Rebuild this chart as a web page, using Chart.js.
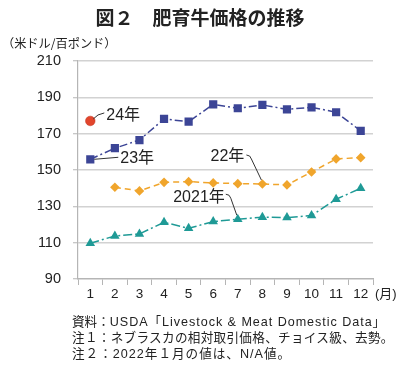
<!DOCTYPE html>
<html><head><meta charset="utf-8">
<script src="https://cdn.jsdelivr.net/npm/chart.js@4.4.1/dist/chart.umd.min.js"></script>
<style>
html,body{margin:0;padding:0;background:#fff;}
#wrap{position:relative;width:400px;height:368px;overflow:hidden;font-family:"Liberation Sans","Noto Sans CJK JP",sans-serif;color:#222;}
#c{position:absolute;left:0;top:0;}
.t{position:absolute;white-space:nowrap;}
</style></head>
<body>
<div id="wrap">
<canvas id="c" width="400" height="368"></canvas>
<div class="t" style="left:0;width:400px;text-align:center;top:5px;font-size:19px;line-height:24px;font-weight:bold;font-family:'Noto Sans CJK JP',sans-serif;">図２　肥育牛価格の推移</div>
<div class="t" style="left:2px;top:35px;font-size:12.2px;line-height:16px;font-family:'Noto Sans CJK JP',sans-serif;">（米ドル/百ポンド）</div>
<div class="t" style="left:375px;top:285px;font-size:13px;line-height:18px;">(月)</div>
<div class="t" style="left:72px;top:314px;font-size:12.6px;line-height:16px;">資料：<span style="letter-spacing:0.95px;">USDA「Livestock &amp; Meat Domestic Data」</span></div>
<div class="t" style="left:72px;top:330px;font-size:12.6px;line-height:16px;letter-spacing:0.3px;">注１：ネブラスカの相対取引価格、チョイス級、去勢。</div>
<div class="t" style="left:72px;top:346px;font-size:12.6px;line-height:16px;letter-spacing:1px;">注２：2022年１月の値は、N/A値。</div>
</div>
<script>
const months = ['1','2','3','4','5','6','7','8','9','10','11','12'];
const y2021 = [109.7,113.7,114.8,121.2,117.9,121.6,122.9,124.0,123.8,124.9,133.9,139.9];
const y2022 = [null,140.5,138.5,143.2,143.6,142.9,142.5,142.3,141.8,148.9,156.1,156.8];
const y2023 = [155.9,162.0,166.5,178.1,176.6,186.1,184.0,185.8,183.4,184.5,181.8,171.5];
const y2024 = [177.0,null,null,null,null,null,null,null,null,null,null,null];
const yTicks = [90,110,130,150,170,190,210];
const seriesNames = ['2021年','22年','23年','24年'];

const annot = {
  id:'annot',
  afterDatasetsDraw(chart){
    const ctx = chart.ctx;
    const P = (d,i)=>chart.getDatasetMeta(d).data[i];
    ctx.save();
    ctx.strokeStyle = '#333';
    ctx.lineWidth = 1;
    ctx.fillStyle = '#222';
    ctx.font = '16px "Liberation Sans", "Noto Sans CJK JP", sans-serif';
    ctx.textBaseline = 'middle';
    // 24年
    let p = P(3,0);
    ctx.beginPath(); ctx.moveTo(p.x+3,p.y-2); ctx.quadraticCurveTo(p.x+7,p.y-7,p.x+14,p.y-8); ctx.stroke();
    ctx.textAlign='left'; ctx.fillText(seriesNames[3], p.x+16, p.y-5);
    // 23年
    p = P(2,0);
    ctx.beginPath(); ctx.moveTo(p.x+4,p.y); ctx.lineTo(p.x+28,p.y-2); ctx.stroke();
    ctx.fillText(seriesNames[2], p.x+30, p.y-1);
    // 22年
    p = P(1,7);
    ctx.beginPath(); ctx.moveTo(p.x-16,p.y-29); ctx.quadraticCurveTo(p.x-12,p.y-29,p.x-11,p.y-25); ctx.lineTo(p.x-1,p.y-4); ctx.stroke();
    ctx.textAlign='right'; ctx.fillText(seriesNames[1], p.x-18, p.y-27);
    // 2021年
    p = P(0,6);
    ctx.beginPath(); ctx.moveTo(p.x-12,p.y-25); ctx.quadraticCurveTo(p.x-8,p.y-25,p.x-7,p.y-21); ctx.lineTo(p.x-1,p.y-4); ctx.stroke();
    ctx.fillText(seriesNames[0], p.x-13, p.y-22);
    ctx.restore();
  }
};

new Chart(document.getElementById('c'), {
  type:'line',
  data:{
    labels: months,
    datasets:[
      {label:seriesNames[0], data:y2021, borderColor:'#1f9a96', backgroundColor:'#1f9a96', borderWidth:1.5, borderDash:[9,3,2,3], pointStyle:'triangle', pointRadius:5.5, pointBorderWidth:0, tension:0},
      {label:seriesNames[1], data:y2022, borderColor:'#f0a52c', backgroundColor:'#f0a52c', borderWidth:1.5, borderDash:[6,4], pointStyle:'rectRot', pointRadius:4.8, pointBorderWidth:0, tension:0},
      {label:seriesNames[2], data:y2023, borderColor:'#3c4596', backgroundColor:'#3c4596', borderWidth:1.5, borderDash:[8,3,2,3], pointStyle:'rect', pointRadius:5.8, pointBorderWidth:0, tension:0},
      {label:seriesNames[3], data:y2024, borderColor:'#e2452c', backgroundColor:'#e2452c', borderWidth:1, pointStyle:'circle', pointRadius:4.8, pointBorderWidth:0.5, pointBorderColor:'#c0301c'}
    ]
  },
  options:{
    responsive:false, animation:false,
    layout:{padding:{left:0,top:61,right:27,bottom:59}},
    plugins:{legend:{display:false}, tooltip:{enabled:false}},
    scales:{
      x:{
        type:'category', offset:true,
        afterFit(s){ s.height = 30; },
        grid:{offset:true, drawOnChartArea:false, drawTicks:true, tickLength:6, color:'#b5b5b5', lineWidth:1},
        border:{color:'#b5b5b5', width:1.2},
        ticks:{color:'#222', font:{family:'"Liberation Sans", Arial, sans-serif', size:13.5}, padding:1, maxRotation:0, autoSkip:false}
      },
      y:{
        min:90, max:210,
        afterFit(s){ s.width = 78; },
        afterBuildTicks(s){ s.ticks = yTicks.map(v=>({value:v})); },
        grid:{color:'#d2d2d2', lineWidth:1.5, tickLength:5, tickColor:'#b5b5b5', tickWidth:1},
        border:{color:'#b5b5b5', width:1.2},
        ticks:{color:'#222', font:{family:'"Liberation Sans", Arial, sans-serif', size:14.5}, padding:12}
      }
    }
  },
  plugins:[annot]
});
</script>
</body></html>
